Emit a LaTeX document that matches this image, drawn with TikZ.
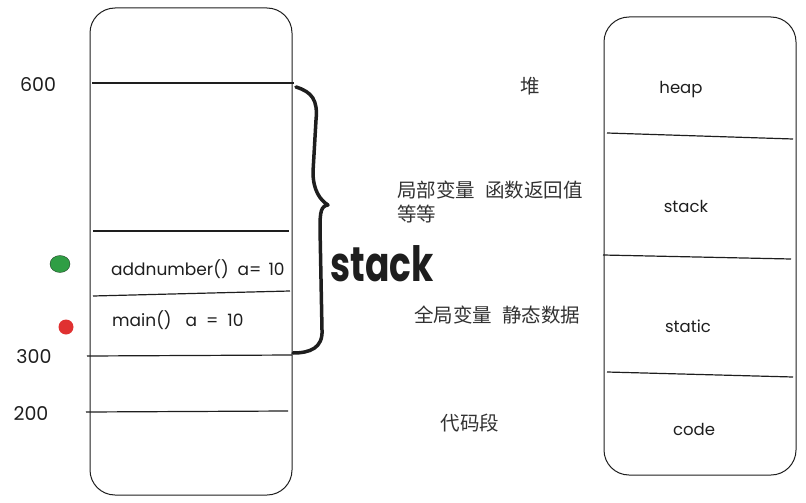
\documentclass[tikz,border=0pt]{standalone}
\usepackage{fontspec}
\setmainfont{Poppins}
\newfontfamily\cjk{Noto Sans CJK SC}
\usetikzlibrary{shapes.geometric,positioning}
\definecolor{inkBlack}{RGB}{30,30,30}
\definecolor{textGray}{RGB}{50,50,50}
\definecolor{dotGreen}{RGB}{47,158,68}
\definecolor{dotRed}{RGB}{224,49,49}
\tikzset{
    membox/.style={rectangle, rounded corners=25pt, draw=inkBlack, line width=1pt},
    divline/.style={draw=inkBlack, line width=1.2pt},
    addr/.style={font=\fontsize{19}{22}\selectfont, text=inkBlack},
    framelabel/.style={font=\fontsize{17}{20}\selectfont, text=inkBlack, anchor=west, inner xsep=0pt},
    seglabel/.style={font=\fontsize{16.5}{20}\selectfont, text=inkBlack},
    zhlabel/.style={font=\cjk\fontsize{19.5}{24}\selectfont, text=textGray},
    brace/.style={draw=inkBlack, line width=3.5pt, line cap=round, line join=round},
}

\begin{document}
\begin{tikzpicture}[x=1pt, y=-1pt]
\useasboundingbox (0,0) rectangle (806,503);

% Left memory column
\node[membox, minimum width=202pt, minimum height=487pt] (mem) at (191,251.5) {};
\draw[divline] (92,83) -- (294,83);
\draw[divline] (93,231) -- (289,231);
\draw[divline] (93,296) -- (290,291);
\draw[divline] (87,356) -- (292,355);
\draw[divline] (86,412) -- (288,411);

% Address labels
\node[addr] (a600) at (38,85) {600};
\node[addr] (a300) at (34,357) {300};
\node[addr] (a200) at (31,414) {200};

% Stack frames
\node[framelabel] (fadd) at (111,269) {addnumber()\hspace{9pt}a=\hspace{7pt}10};
\node[framelabel] (fmain) at (112,320) {main()\hspace{14pt}a\hspace{9pt}=\hspace{9pt}10};
\node[ellipse, fill=dotGreen, draw=inkBlack!70!dotGreen, minimum width=20pt, minimum height=17pt, inner sep=0pt] (gdot) at (60,264) {};
\node[circle, fill=dotRed, minimum size=15pt, inner sep=0pt] (rdot) at (66,327) {};

% Brace and label
\draw[brace] (296,87) .. controls (312,92) and (318,100) .. (316,120) -- (313,172)
    .. controls (313,190) and (320,200) .. (328,205)
    .. controls (321,206) and (320,212) .. (320,228) -- (322,330)
    .. controls (323,348) and (310,353) .. (293,353);
\node[font=\fontsize{36}{36}\selectfont\bfseries, text=inkBlack] (stacktag) at (382,264) {\scalebox{1}[1.35]{stack}};

% Chinese notes
\node[zhlabel, inner xsep=0pt] (zhheap) at (530,86) {堆};
\node[zhlabel, anchor=west, align=left, inner xsep=0pt] (zhstack) at (397,202) {局部变量\hspace{10pt}函数返回值\\等等};
\node[zhlabel, anchor=west, inner xsep=0pt] (zhstatic) at (414,315) {全局变量\hspace{10pt}静态数据};
\node[zhlabel] (zhcode) at (470,423) {代码段};

% Right segment column
\node[membox, minimum width=192pt, minimum height=458pt] (seg) at (700,246) {};
\draw[divline] (607,133) -- (793,139);
\draw[divline] (603,255) -- (791,259);
\draw[divline] (607,372) -- (793,377);
\node[seglabel] (sheap) at (681,90) {heap};
\node[seglabel] (sstack) at (686,206) {stack};
\node[seglabel] (sstatic) at (688,326) {static};
\node[seglabel] (scode) at (694,429) {code};

\end{tikzpicture}
\end{document}
